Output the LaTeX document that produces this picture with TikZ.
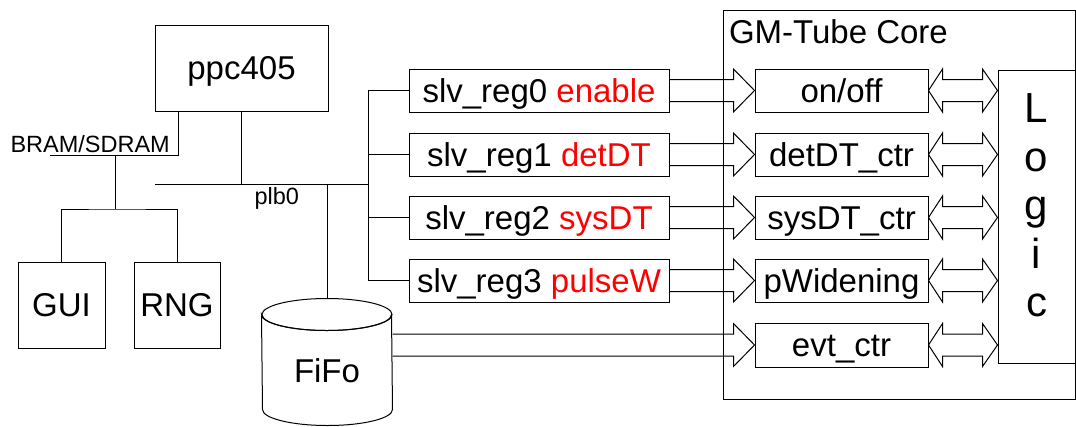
\documentclass[tikz,border=0pt]{standalone}
\usepackage{fontspec}
\setmainfont{Liberation Sans}
\usetikzlibrary{calc}
\definecolor{regred}{RGB}{255,0,0}
\newcommand\fs[2]{\fontsize{#1}{#2}\selectfont}

% one-way block arrow from the east side of #1 to the west side of #2
\newcommand\blockarrow[2]{%
  \draw[conn] let \p1=(#1.east), \p2=(#2.west) in
    (\x1,\y2+11pt) -- (\x2-21pt,\y2+11pt) -- (\x2-21pt,\y2+21.5pt) -- (\x2,\y2)
    -- (\x2-21pt,\y2-21.5pt) -- (\x2-21pt,\y2-11pt) -- (\x1,\y2-11pt);}

% two-way block arrow from the east side of #1 to the west side of #2
\newcommand\dblarrow[2]{%
  \draw[conn] let \p1=(#1.east), \p2=(#2.west) in
    (\x1,\y1) -- (\x1+14pt,\y1+21.5pt) -- (\x1+14pt,\y1+11pt) -- (\x2-15pt,\y1+11pt)
    -- (\x2-15pt,\y1+21.5pt) -- (\x2,\y1) -- (\x2-15pt,\y1-21.5pt) -- (\x2-15pt,\y1-11pt)
    -- (\x1+14pt,\y1-11pt) -- (\x1+14pt,\y1-21.5pt) -- cycle;}

\begin{document}
\begin{tikzpicture}[x=1pt,y=-1pt,line width=1pt,
  box/.style={draw,inner sep=0pt,font=\fs{33}{40},text height=23.6pt,text depth=0pt},
  conn/.style={draw,line join=miter},
  small/.style={font=\fs{23.5}{28},inner sep=0pt,anchor=base west},
]
\useasboundingbox (0,0) rectangle (1076,426);

% processor and peripherals
\node[box,minimum width=173,minimum height=86] (ppc) at (241.5,68) {ppc405};
\node[box,minimum width=87,minimum height=86] (gui) at (61.5,305) {GUI};
\node[box,minimum width=86,minimum height=86] (rng) at (177,305) {RNG};
\node[small] (bram) at (10,152) {BRAM/SDRAM};
\node[small] (plb) at (254,204) {plb0};

% slave registers
\node[box,minimum width=260,minimum height=43] (r0) at (539,90.5) {slv\_reg0 \textcolor{regred}{enable}};
\node[box,minimum width=260,minimum height=43] (r1) at (539,154.5) {slv\_reg1 \textcolor{regred}{detDT}};
\node[box,minimum width=260,minimum height=43] (r2) at (539,217.5) {slv\_reg2 \textcolor{regred}{sysDT}};
\node[box,minimum width=260,minimum height=43] (r3) at (539,280.5) {slv\_reg3 \textcolor{regred}{pulseW}};

% GM-Tube core
\node[draw,minimum width=352,minimum height=389,inner sep=0pt] (core) at (899,204.5) {};
\node[anchor=base west,inner sep=0pt,font=\fs{33}{40}] (coretitle) at (728.5,43) {GM-Tube Core};
\node[box,minimum width=173,minimum height=43] (c0) at (841.5,90.5) {on/off};
\node[box,minimum width=173,minimum height=43] (c1) at (841.5,154.5) {detDT\_ctr};
\node[box,minimum width=173,minimum height=43] (c2) at (841.5,217.5) {sysDT\_ctr};
\node[box,minimum width=173,minimum height=43] (c3) at (841.5,280.5) {pWidening};
\node[box,minimum width=173,minimum height=44] (c4) at (841.5,345) {evt\_ctr};
\node[draw,minimum width=77,minimum height=293,inner sep=0pt] (logic) at (1036.5,216.5) {};
\node[font=\fs{42}{48.5},align=center,inner sep=0pt] (logictext) at (1036.5,205.5) {L\\o\\g\\i\\c};

% FiFo cylinder
\node[minimum width=130,minimum height=94,inner sep=0pt] (fifo) at (327,362) {};
\draw (fifo.north west) arc[start angle=180,end angle=360,x radius=65pt,y radius=16pt]
  -- (fifo.south east) arc[start angle=0,end angle=-180,x radius=65pt,y radius=16pt] -- cycle;
\draw (fifo.north) ellipse[x radius=65pt,y radius=16pt];
\node[font=\fs{33}{40},text height=23.6pt,text depth=0pt,inner sep=0pt] (fifolabel) at (327,371) {FiFo};

% memory bus and peripheral links
\coordinate (memL) at (50,155);
\coordinate (memT) at (115,155);
\coordinate (perJ) at (115,209);
\draw ([xshift=24pt]ppc.south west) |- (memL);
\draw (memT) -- (perJ);
\draw (gui.north) |- (perJ) -| (rng.north);

% plb bus
\coordinate (plbL) at (155,184);
\coordinate (plbR) at (368,184);
\coordinate (busT) at (368,90.5);
\coordinate (busB) at (368,280.5);
\coordinate (fifoTop) at ($(fifo.north)+(0,-16)$);
\draw (plbL) -- (plbR);
\draw (ppc.south) -- (ppc.south |- plbL);
\draw (busT) -- (busB);
\foreach \r in {r0,r1,r2,r3} {\draw (\r.west) -- (\r.west -| busT);}
\draw (fifoTop) -- (fifoTop |- plbL);

% data paths into the core
\blockarrow{r0}{c0}
\blockarrow{r1}{c1}
\blockarrow{r2}{c2}
\blockarrow{r3}{c3}
\blockarrow{fifo}{c4}
\foreach \c in {c0,c1,c2,c3,c4} {\dblarrow{\c}{logic}}
\end{tikzpicture}
\end{document}
